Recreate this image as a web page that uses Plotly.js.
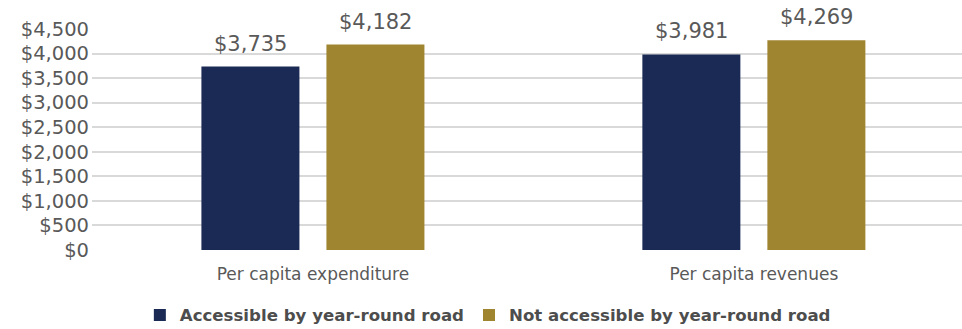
<!DOCTYPE html>
<html><head><meta charset="utf-8">
<script src="https://cdn.plot.ly/plotly-3.0.1.min.js"></script>
<style>html,body{margin:0;padding:0;background:#fff}#c{width:962px;height:329px}</style>
</head><body><div id="c"></div>
<script>
const categories = ["Per capita expenditure", "Per capita revenues"];
const accessible = [3735, 3981];
const notAccessible = [4182, 4269];
const seriesNames = ["Accessible by year-round road", "Not accessible by year-round road"];
const tickVals = [0, 500, 1000, 1500, 2000, 2500, 3000, 3500, 4000, 4500];

const fmt = v => "$" + v.toLocaleString("en-US");
const font = "'DejaVu Sans', sans-serif";
const colors = ["#1b2a55", "#a08531"];
const series = [accessible, notAccessible];
const data = series.map((y, i) => ({type: "bar", name: seriesNames[i], x: categories, y: y,
    marker: {color: colors[i]}, hoverinfo: "none"}));

const annotations = [];
series.forEach((y, i) => y.forEach((v, j) => annotations.push({
  x: categories[j], y: v, xref: "x", yref: "y", text: fmt(v), showarrow: false,
  xanchor: "center", yanchor: "bottom", xshift: (i === 0 ? -62.5 : 62.5), yshift: 9,
  font: {family: font, size: 21, color: "#595959"}})));

const layout = {
  width: 962, height: 329,
  margin: {l: 92, r: 0, t: 29, b: 79, autoexpand: false},
  paper_bgcolor: "#fff", plot_bgcolor: "#fff",
  barmode: "group", bargap: 0.433, bargroupgap: 0.216,
  showlegend: true, annotations: annotations,
  legend: {orientation: "h", x: 0.455, xanchor: "center", y: -0.295, yanchor: "middle",
    font: {family: font, size: 16.6, color: "#4d4d4d", weight: "bold"}, traceorder: "normal"},
  xaxis: {range: [-0.501, 1.472], showgrid: false, zeroline: false, showline: false,
    tickfont: {family: font, size: 17, color: "#595959"}, ticks: "", ticklabelstandoff: 12},
  yaxis: {range: [0, 4500], tickvals: tickVals, ticktext: tickVals.map(fmt),
    showgrid: true, gridcolor: "#d9d9d9", gridwidth: 2, zeroline: false,
    tickfont: {family: font, size: 19.5, color: "#595959"}, ticks: "", ticklen: 0, ticklabelstandoff: 2}
};
Plotly.newPlot("c", data, layout, {displayModeBar: false, staticPlot: true});
</script></body></html>
